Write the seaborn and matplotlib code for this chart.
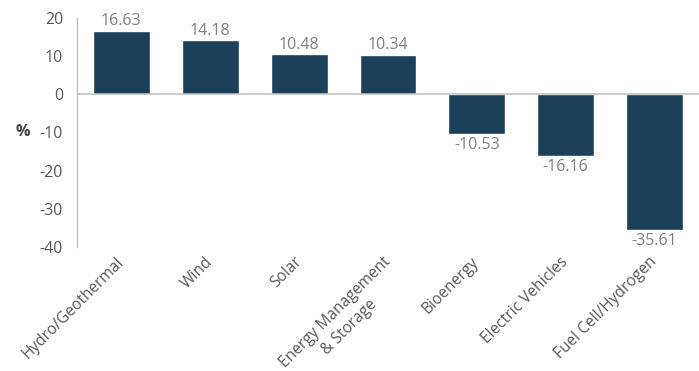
import matplotlib
matplotlib.use("Agg")
import matplotlib.pyplot as plt
import matplotlib.transforms as mtransforms
import seaborn as sns
import pandas as pd

categories = ["Hydro/Geothermal", "Wind", "Solar", "Energy Management\n& Storage",
              "Bioenergy", "Electric Vehicles", "Fuel Cell/Hydrogen"]
values = [16.63, 14.18, 10.48, 10.34, -10.53, -16.16, -35.61]
yticks = [20, 10, 0, -10, -20, -30, -40]

sns.set_theme(style="white")
plt.rcParams["font.family"] = ["Open Sans", "DejaVu Sans"]

df = pd.DataFrame({"cat": categories, "val": values})

fig = plt.figure(figsize=(6.99, 3.71), dpi=100)
ax = fig.add_axes([0.110, 0.334, 0.890, 0.618])

bar_color = "#1c3f5a"
sns.barplot(data=df, x="cat", y="val", color=bar_color, width=0.64,
            saturation=1, ax=ax, errorbar=None)

ax.set_ylim(-40, 20)
ax.set_xlim(-0.5, 6.5)
ax.set_yticks(yticks)
ax.set_yticklabels([str(t) for t in yticks])
ax.tick_params(axis="y", length=0, pad=10, labelsize=11.5, labelcolor="#595959")
ax.tick_params(axis="x", length=0, pad=9, labelsize=11.2, labelcolor="#595959")

for lbl in ax.get_xticklabels():
    lbl.set_rotation(45)
    lbl.set_ha("right")
    lbl.set_va("center")
    lbl.set_rotation_mode("anchor")
    lbl.set_multialignment("center")
    if "\n" in lbl.get_text():
        lbl.set_linespacing(1.4)
        lbl.set_transform(mtransforms.offset_copy(lbl.get_transform(), fig=fig,
                                                  x=5.4, y=-5.4, units="points"))

ax.set_xlabel("")
ax.set_ylabel("%", rotation=0, fontweight="bold", fontsize=11.5, color="#404040",
              labelpad=12, va="center")

for s in ["top", "right", "bottom"]:
    ax.spines[s].set_visible(False)
ax.spines["left"].set_color("#bfbfbf")
ax.spines["left"].set_linewidth(1)
ax.axhline(0, color="#bfbfbf", lw=1.1, zorder=3)

for i, v in enumerate(values):
    if v >= 0:
        ax.annotate(f"{v:.2f}", (i, v), xytext=(0, 1), textcoords="offset points",
                    ha="center", va="bottom", fontsize=11.5, color="#808080")
    else:
        ax.annotate(f"{v:.2f}", (i, v), xytext=(0, -2), textcoords="offset points",
                    ha="center", va="top", fontsize=11.5, color="#808080")

fig.savefig("out.png", dpi=100)
